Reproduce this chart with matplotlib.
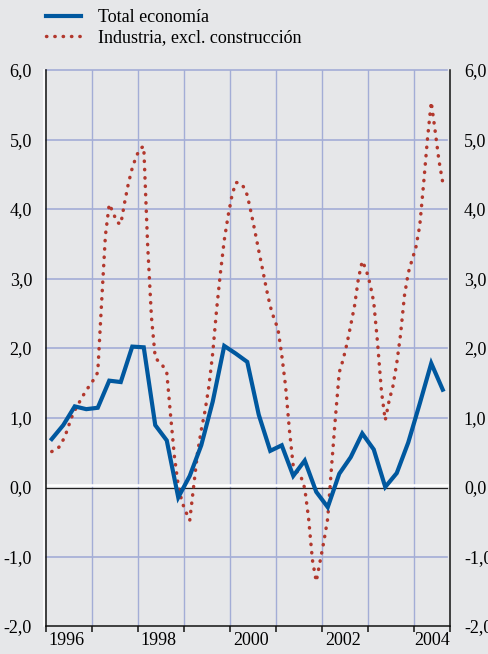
import numpy as np
import matplotlib
matplotlib.use("Agg")
import matplotlib.pyplot as plt
from matplotlib.lines import Line2D

plt.rcParams['font.family'] = ['Liberation Serif', 'DejaVu Serif']

# quarterly series, 1996 Q1 .. 2004 Q3 (plotted at mid-quarter)
total_economia = [0.69, 0.89, 1.16, 1.12, 1.14, 1.53, 1.51, 2.02, 2.01, 0.89,
                  0.67, -0.15, 0.16, 0.60, 1.23, 2.03, 1.92, 1.80, 1.04, 0.52,
                  0.60, 0.16, 0.38, -0.07, -0.29, 0.19, 0.43, 0.77, 0.54, 0.00,
                  0.20, 0.64, 1.20, 1.78, 1.40]

# monthly series, Feb 1996 .. Aug 2004 (plotted at mid-month)
industria = [0.51, 0.53, 0.58, 0.68, 0.81, 0.98, 1.10, 1.20, 1.30, 1.39,
             1.47, 1.55, 1.65, 2.65, 3.62, 4.07, 3.95, 3.81, 3.78, 4.09,
             4.37, 4.59, 4.75, 4.87, 4.90, 3.50, 2.45, 1.86, 1.80, 1.74,
             1.65, 1.03, 0.44, 0.02, -0.22, -0.36, -0.48, 0.00, 0.48, 0.82,
             1.10, 1.45, 1.93, 2.55, 3.08, 3.55, 3.90, 4.19, 4.38, 4.38,
             4.32, 4.20, 3.95, 3.68, 3.40, 3.13, 2.85, 2.60, 2.42, 2.28,
             1.90, 1.45, 0.82, 0.30, 0.22, 0.15, -0.02, -0.45, -1.05, -1.36,
             -1.07, -0.78, -0.45, 0.30, 1.00, 1.65, 1.83, 2.06, 2.33, 2.61,
             3.00, 3.25, 3.13, 2.93, 2.66, 2.07, 1.38, 0.96, 1.24, 1.45,
             1.78, 2.20, 2.75, 3.08, 3.27, 3.45, 3.76, 4.36, 5.00, 5.54,
             5.13, 4.70, 4.38]

year_labels = ['1996', '1998', '2000', '2002', '2004']
y_ticks = [-2, -1, 0, 1, 2, 3, 4, 5, 6]
legend_labels = ['Total economía', 'Industria, excl. construcción']

bg = '#e6e7e9'
blue = '#00589f'
red = '#b2382d'
grid_col = '#a3add6'
dots = (0, (0.1, 2.3))

x_q = 1996 + (np.arange(len(total_economia)) + 0.5) / 4.0
x_m = 1996 + (np.arange(len(industria)) + 1.5) / 12.0

xmin, xmax = 1996.0, 1996 + 404 / 46.0

fig = plt.figure(figsize=(4.89, 6.54), dpi=100, facecolor=bg)
ax = fig.add_axes([46 / 489, 1 - 626 / 654, 404 / 489, 556 / 654], facecolor=bg)
ax.set_xlim(xmin, xmax)
ax.set_ylim(-2, 6)

# grid
for yr in range(1997, 2005):
    ax.axvline(yr, color=grid_col, lw=1.0, zorder=1)
for v in y_ticks:
    if v not in (0, -2):
        ax.plot([xmin, xmax - 0.07], [v, v], color=grid_col, lw=1.2, zorder=1, clip_on=False)

# zero line
ax.plot([xmin, xmax - 0.07], [0.03, 0.03], color='white', lw=1.8, zorder=2)
ax.plot([xmin, xmax - 0.07], [-0.02, -0.02], color='#222222', lw=0.9, zorder=2)

ax.plot(x_m, industria, color=red, lw=2.5, linestyle=dots,
        dash_capstyle='round', zorder=3)
ax.plot(x_q, total_economia, color=blue, lw=3.0, solid_joinstyle='miter', zorder=4)

ax.spines['top'].set_visible(False)
for s in ['left', 'right', 'bottom']:
    ax.spines[s].set_color('#111111')
    ax.spines[s].set_linewidth(1.1)
# white edge left of the left spine
ax.plot([xmin - 0.045, xmin - 0.045], [-2, 6], color='white', lw=1.2, clip_on=False, zorder=5)

tick_text = [f'{v:.1f}'.replace('.', ',') for v in y_ticks]
ax.set_yticks(y_ticks)
ax.set_yticklabels(tick_text)
ax.tick_params(axis='y', length=0, pad=10, labelsize=13)

ax_r = ax.twinx()
ax_r.set_ylim(-2, 6)
ax_r.set_yticks(y_ticks)
ax_r.set_yticklabels(tick_text)
ax_r.tick_params(axis='y', length=0, pad=10, labelsize=13)
for s in ax_r.spines.values():
    s.set_visible(False)

ax.set_xticks(list(range(1996, 2005)) + [xmax])
ax.set_xticklabels([])
ax.tick_params(axis='x', which='major', direction='out', length=4, width=1.1, color='#111111')
lab_pos = [min(int(y) + 0.45, xmax - 0.39) for y in year_labels]
ax.set_xticks(lab_pos, minor=True)
ax.set_xticklabels(year_labels, minor=True)
ax.tick_params(axis='x', which='minor', length=0, pad=4, labelsize=13)

handles = [Line2D([], [], color=blue, lw=3.0),
           Line2D([], [], color=red, lw=2.5, linestyle=dots, dash_capstyle='round')]
fig.legend(handles, legend_labels, loc='upper left', bbox_to_anchor=(30 / 489, 1 + 7 / 654),
           frameon=False, fontsize=13, handlelength=1.9, handletextpad=0.95,
           labelspacing=0.15)

fig.savefig('out.png', dpi=100, facecolor=bg)
